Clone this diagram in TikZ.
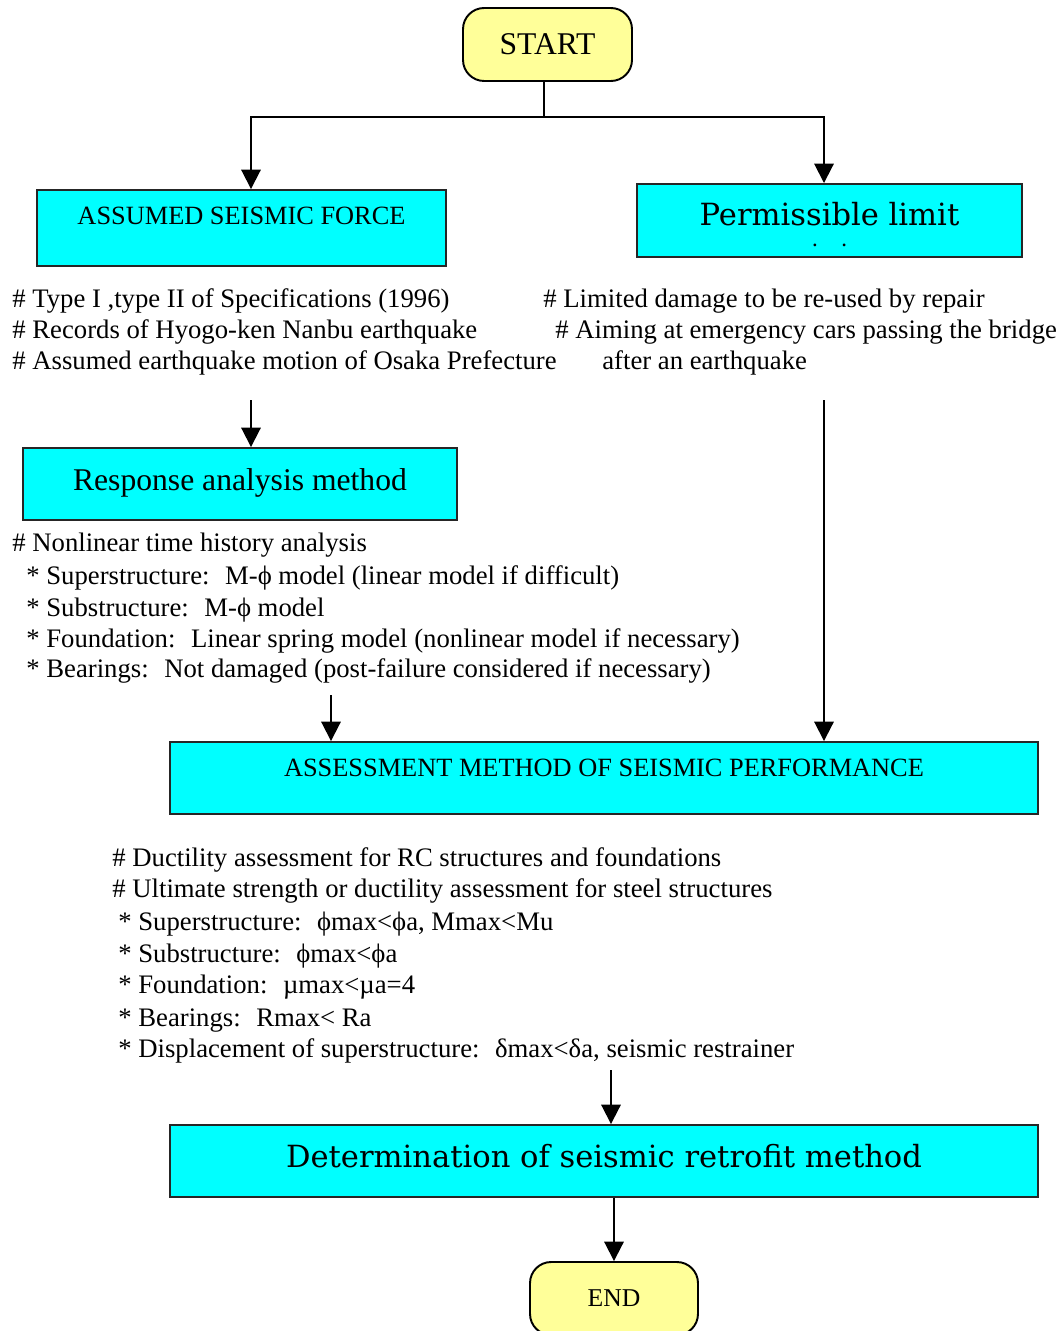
\documentclass[tikz,border=0pt]{standalone}
\usepackage{fontspec}
\setmainfont{Liberation Serif}
\newfontfamily\titlefont{DejaVu Serif}
\usetikzlibrary{arrows.meta}
\definecolor{boxcyan}{RGB}{0,255,255}
\definecolor{termyellow}{RGB}{255,255,153}

\tikzset{
  box/.style={draw=black!85,line width=1.1pt,fill=boxcyan,inner sep=0pt},
  term/.style={draw=black,line width=1.1pt,fill=termyellow,rounded corners=12pt,inner sep=0pt},
  note/.style={anchor=base west,inner sep=0pt,font=\fontsize{15.2}{17}\selectfont},
  arr/.style={line width=1.1pt,-{Triangle[length=11pt,width=11pt]}}
}

\begin{document}
\begin{tikzpicture}[x=0.02cm,y=-0.02cm]
            \useasboundingbox (0,0) rectangle (1058,1331);

            \node[term,minimum width=3.38cm,minimum height=1.46cm,font=\fontsize{18}{20}\selectfont] (start) at (547.5,44.5) {START};
            \node[box,minimum width=8.18cm,minimum height=1.52cm,text height=0.34cm,text depth=0.48cm,font=\fontsize{15}{17}\selectfont] (force) at (241.5,228) {ASSUMED SEISMIC FORCE};
            \node[box,minimum width=7.7cm,minimum height=1.46cm,align=center,font=\titlefont\fontsize{17.4}{20}\selectfont] (limit) at (829.5,220.5) {\rule{0pt}{18pt}Permissible limit\\[-8pt]{\fontsize{12}{12}\selectfont .\hspace{0.45cm}.}};
            \node[box,minimum width=8.68cm,minimum height=1.44cm,text depth=0.16cm,font=\fontsize{18}{20}\selectfont] (resp) at (240,484) {Response analysis method};
            \node[box,minimum width=17.36cm,minimum height=1.44cm,text height=0.34cm,text depth=0.4cm,font=\fontsize{15}{17}\selectfont] (assess) at (604,778) {ASSESSMENT METHOD OF SEISMIC PERFORMANCE};
            \node[box,minimum width=17.36cm,minimum height=1.44cm,text depth=0.22cm,font=\titlefont\fontsize{17.4}{20}\selectfont] (determ) at (604,1161) {Determination of seismic retrofit method};
            \node[term,minimum width=3.36cm,minimum height=1.46cm,font=\fontsize{14.6}{17}\selectfont] (finish) at (614,1298.5) {END};

            \node[note] (fa) at (12,307) {\# Type I ,type II of Specifications (1996)};
            \node[note] (fb) at (12,338) {\# Records of Hyogo-ken Nanbu earthquake};
            \node[note] (fc) at (12,369) {\# Assumed earthquake motion of Osaka Prefecture};

            \node[note] (la) at (543,307) {\# Limited damage to be re-used by repair};
            \node[note] (lb) at (555,338) {\# Aiming at emergency cars passing the bridge};
            \node[note] (lc) at (602,369) {after an earthquake};

            \node[note] (ra) at (12,551) {\# Nonlinear time history analysis};
            \node[note] (rb) at (26,584) {* Superstructure:~ M-ϕ model (linear model if difficult)};
            \node[note] (rc) at (26,616) {* Substructure:~ M-ϕ model};
            \node[note] (rd) at (26,647) {* Foundation:~ Linear spring model (nonlinear model if necessary)};
            \node[note] (re) at (26,677) {* Bearings:~ Not damaged (post-failure considered if necessary)};

            \node[note] (aa) at (112,866) {\# Ductility assessment for RC structures and foundations};
            \node[note] (ab) at (112,897) {\# Ultimate strength or ductility assessment for steel structures};
            \node[note] (ac) at (118,930) {* Superstructure:~ ϕmax<ϕa, Mmax<Mu};
            \node[note] (ad) at (118,962) {* Substructure:~ ϕmax<ϕa};
            \node[note] (ae) at (118,993) {* Foundation:~ µmax<µa=4};
            \node[note] (af) at (118,1026) {* Bearings:~ Rmax< Ra};
            \node[note] (ag) at (118,1057) {* Displacement of superstructure:~ δmax<δa, seismic restrainer};

            \coordinate (split) at (544,117);
            \coordinate (p1) at (251,400);
            \coordinate (p2) at (824,400);
            \coordinate (p3) at (331,695);
            \coordinate (p4) at (611,1070);

            \draw[line width=1.1pt] (start.south -| split) -- (split);
            \draw[arr] (split) -| ([xshift=0.19cm]force.north);
            \draw[arr] (split) -| ([xshift=-0.11cm]limit.north);
            \draw[arr] (p1) -- (p1 |- resp.north);
            \draw[arr] (p2) -- (p2 |- assess.north);
            \draw[arr] (p3) -- (p3 |- assess.north);
            \draw[arr] (p4) -- (p4 |- determ.north);
            \draw[arr] (finish.north |- determ.south) -- (finish.north);
\end{tikzpicture}
\end{document}
